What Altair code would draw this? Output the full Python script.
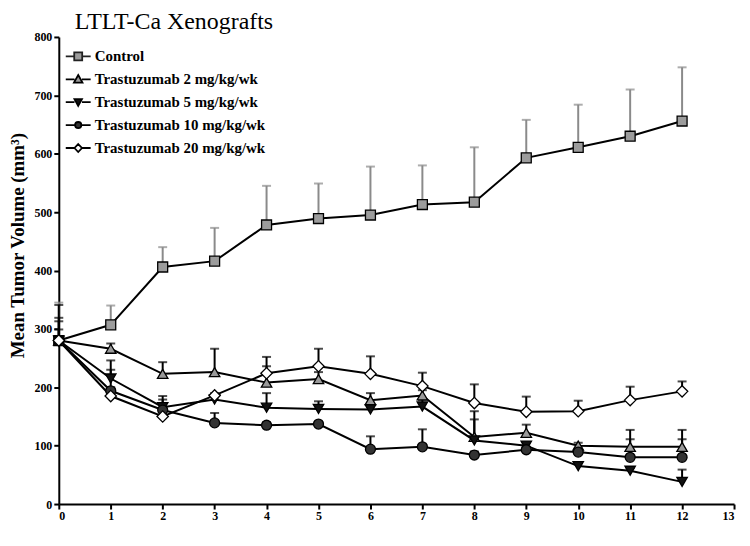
import altair as alt
import pandas as pd

days = list(range(13))
series_names = ["Control", "Trastuzumab 2 mg/kg/wk", "Trastuzumab 5 mg/kg/wk",
                "Trastuzumab 10 mg/kg/wk", "Trastuzumab 20 mg/kg/wk"]

control = [280, 307, 406, 416, 478, 489, 495, 513, 517, 593, 611, 630, 656]
control_err = [65, 33, 34, 57, 67, 60, 83, 67, 94, 65, 73, 80, 92]
t2 = [280, 266, 223, 226, 208, 214, 178, 186, 115, 122, 100, 98, 98]
t2_err = [61, 9, 20, 40, 28, 12, 12, 9, 44, 14, 5, 29, 29]
t5 = [280, 215, 166, 179, 165, 163, 162, 167, 109, 100, 65, 57, 38]
t5_err = [39, 31, 19, 6, 25, 13, 10, 11, 36, 6, 5, 5, 21]
t10 = [280, 194, 161, 139, 135, 137, 94, 98, 84, 93, 89, 80, 80]
t10_err = [33, 36, 18, 17, 5, 3, 22, 30, 6, 5, 6, 31, 31]
t20 = [280, 185, 150, 186, 224, 236, 223, 202, 173, 158, 159, 178, 193]
t20_err = [19, 15, 10, 4, 28, 30, 30, 23, 32, 26, 18, 23, 17]

means = [control, t2, t5, t10, t20]
errs = [control_err, t2_err, t5_err, t10_err, t20_err]

rows = []
for name, m, e in zip(series_names, means, errs):
    for d, v, s in zip(days, m, e):
        rows.append({"series": name, "day": d, "mean": v, "top": v + s})
df = pd.DataFrame(rows)

fills = ["#9c9c9c", "#9a9a9a", "#111111", "#333333", "#ffffff"]
strokes = ["#222222", "black", "black", "black", "black"]
plot_shapes = ["square", "triangle-up", "triangle-down", "circle", "diamond"]
plot_sizes = [100, 110, 110, 100, 130]
legend_shapes = [
    "M-1,0H-0.32M0.32,0H1M-0.32,-0.32H0.32V0.32H-0.32Z",
    "M-1,0H-0.3M0.3,0H1M0,-0.34L0.34,0.26L-0.34,0.26Z",
    "M-1,0H-0.3M0.3,0H1M0,0.3L0.3,-0.24L-0.3,-0.24Z",
    "M-1,0H-0.25M0.25,0H1M-0.25,0A0.25,0.25,0,1,1,0.25,0A0.25,0.25,0,1,1,-0.25,0Z",
    "M-1,0H-0.3M0.3,0H1M0,-0.32L0.3,0L0,0.32L-0.3,0Z",
]

SERIF = "Liberation Serif"

xenc = alt.X("day:Q", scale=alt.Scale(domain=[0, 13], nice=False),
             axis=alt.Axis(values=list(range(14)), format="d", title=None))
yenc = alt.Y("mean:Q", scale=alt.Scale(domain=[0, 800], nice=False),
             axis=alt.Axis(values=list(range(0, 801, 100)), title="Mean Tumor Volume (mm³)",
                           titleX=-31, titleY=209))

base = alt.Chart(df)

err_color = alt.condition(alt.datum.series == "Control", alt.value("#8a8a8a"), alt.value("black"))

rules = base.mark_rule(strokeWidth=2).encode(x=xenc, y=yenc, y2="top:Q", color=err_color)
caps = base.mark_tick(orient="horizontal", size=9, thickness=2).encode(
    x="day:Q", y="top:Q", color=err_color)
lines = base.mark_line(color="black", strokeWidth=2).encode(
    x="day:Q", y="mean:Q", detail="series:N", order="day:Q")

point_layers = []
for name, shp, fl, sz in zip(series_names, plot_shapes, fills, plot_sizes):
    point_layers.append(
        base.transform_filter(alt.datum.series == name).mark_point(
            shape=shp, filled=True, fill=fl, stroke="black", strokeWidth=1.3,
            size=sz, opacity=1).encode(x="day:Q", y="mean:Q")
    )

legend_layer = base.mark_point(filled=True, strokeWidth=1.8,
                               size=625, opacity=0).encode(
    x="day:Q", y="mean:Q",
    shape=alt.Shape("series:N", scale=alt.Scale(domain=series_names, range=legend_shapes),
                    title=None),
    fill=alt.Fill("series:N", scale=alt.Scale(domain=series_names, range=fills), title=None),
    stroke=alt.Stroke("series:N", scale=alt.Scale(domain=series_names, range=strokes),
                      title=None),
)

chart = alt.layer(rules, caps, lines, *point_layers, legend_layer).properties(
    width=678, height=469,
    autosize=alt.AutoSizeParams(type="none"),
    padding={"left": 51, "top": 28, "right": 8, "bottom": 30},
    title=alt.TitleParams("LTLT-Ca Xenografts", anchor="start", frame="group", dx=16, dy=11,
                          offset=8, fontSize=24, font=SERIF, fontWeight="normal",
                          color="black"),
).configure_view(stroke=None).configure_axis(
    grid=False, domainColor="black", domainWidth=2, tickColor="black", tickWidth=2,
    tickSize=5, labelFont=SERIF, labelFontSize=12, labelFontWeight="bold",
    labelColor="black", labelPadding=2, titleFont=SERIF, titleFontSize=19,
    titleFontWeight="bold", titleColor="black"
).configure_legend(
    orient="none", legendX=6, legendY=6, symbolSize=625,
    symbolStrokeWidth=1.8, symbolOpacity=1, labelFont=SERIF, labelFontSize=15,
    labelFontWeight="bold", labelColor="black", labelOffset=3, rowPadding=1,
    padding=0, labelLimit=400
)

chart.save("out.html", embed_options={"renderer": "svg", "actions": False})
